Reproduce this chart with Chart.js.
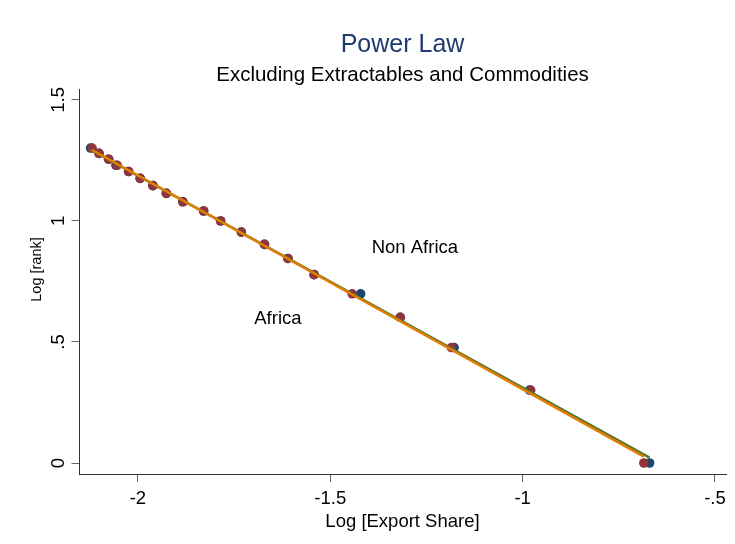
<!DOCTYPE html>
<html>
<head>
<meta charset="utf-8">
<title>Power Law</title>
<script src="https://cdn.jsdelivr.net/npm/chart.js@4.4.1/dist/chart.umd.min.js"></script>
<style>
  html, body { margin: 0; padding: 0; background: #fff; }
  canvas { display: block; }
</style>
</head>
<body>
<canvas id="powerLawChart" width="735" height="544"></canvas>
<script>
// log10 of rank, same for both groups
const logRank = [1.301, 1.279, 1.255, 1.230, 1.204, 1.176, 1.146, 1.114, 1.079, 1.041,
                 1.000, 0.954, 0.903, 0.845, 0.778, 0.699, 0.602, 0.477, 0.301, 0.000];
const nonAfricaShare = [-2.123, -2.101, -2.076, -2.057, -2.024, -1.994, -1.961, -1.926, -1.883, -1.829,
                        -1.785, -1.731, -1.671, -1.610, -1.542, -1.421, -1.318, -1.178, -0.982, -0.670];
const africaShare = [-2.119, -2.101, -2.076, -2.054, -2.024, -1.994, -1.961, -1.926, -1.883, -1.829,
                     -1.785, -1.731, -1.671, -1.610, -1.542, -1.443, -1.318, -1.185, -0.979, -0.685];

const xTicks = [-2, -1.5, -1, -0.5];
const xTickLabels = ['-2', '-1.5', '-1', '-.5'];
const yTicks = [0, 0.5, 1, 1.5];
const yTickLabels = ['0', '.5', '1', '1.5'];

const noteTexts = ['Non Africa', 'Africa'];
const noteX = [-1.28, -1.636];
const noteY = [0.89, 0.594];

const FONT = '"Liberation Sans", Arial, Helvetica, sans-serif';

function linearFit(xs, ys) {
    const n = xs.length;
    const mx = xs.reduce((s, v) => s + v, 0) / n;
    const my = ys.reduce((s, v) => s + v, 0) / n;
    let sxy = 0, sxx = 0;
    for (let i = 0; i < n; i++) {
        sxy += (xs[i] - mx) * (ys[i] - my);
        sxx += (xs[i] - mx) * (xs[i] - mx);
    }
    const b = sxy / sxx;
    const a = my - b * mx;
    const lo = Math.min(...xs);
    const hi = Math.max(...xs);
    return [{ x: lo, y: a + b * lo }, { x: hi, y: a + b * hi }];
}

const toPoints = (xs, ys) => xs.map((x, i) => ({ x: x, y: ys[i] }));

// y tick labels and y title are rotated like Stata draws them, plus the two text notes
const extrasPlugin = {
    id: 'extras',
    afterDraw(chart) {
        const ctx = chart.ctx;
        const xs = chart.scales.x;
        const ys = chart.scales.y;
        ctx.save();
        ctx.fillStyle = '#000';
        ctx.textAlign = 'center';
        ctx.textBaseline = 'middle';
        ctx.font = '18.5px ' + FONT;
        yTicks.forEach((v, i) => {
            ctx.save();
            ctx.translate(ys.right - 20.5, ys.getPixelForValue(v));
            ctx.rotate(-Math.PI / 2);
            ctx.fillText(yTickLabels[i], 0, 0);
            ctx.restore();
        });

        ctx.save();
        ctx.font = '14.5px ' + FONT;
        ctx.translate(37, (ys.top + ys.bottom) / 2 - 12);
        ctx.rotate(-Math.PI / 2);
        ctx.fillText('Log [rank]', 0, 0);
        ctx.restore();

        ctx.font = '18.5px ' + FONT;
        noteTexts.forEach((t, i) => {
            ctx.fillText(t, xs.getPixelForValue(noteX[i]), ys.getPixelForValue(noteY[i]));
        });
        ctx.restore();
    },
};

function PopulatePowerLawChart() {
    const ctx = document.getElementById('powerLawChart').getContext('2d');
    Chart.defaults.font.family = FONT;
    Chart.defaults.color = '#000';

    const data = {
        datasets: [
            {
                label: 'Fit Africa',
                data: linearFit(africaShare, logRank),
                showLine: true,
                borderColor: '#e37e00',
                borderWidth: 2.5,
                pointRadius: 0,
                order: 1,
            },
            {
                label: 'Fit Non Africa',
                data: linearFit(nonAfricaShare, logRank),
                showLine: true,
                borderColor: '#55752f',
                borderWidth: 2.5,
                pointRadius: 0,
                order: 2,
            },
            {
                label: 'Africa',
                data: toPoints(africaShare, logRank),
                backgroundColor: '#90353b',
                borderWidth: 0,
                pointRadius: 4.8,
                order: 3,
            },
            {
                label: 'Non Africa',
                data: toPoints(nonAfricaShare, logRank),
                backgroundColor: '#1a476f',
                borderWidth: 0,
                pointRadius: 4.8,
                order: 4,
            },
        ],
    };

    new Chart(ctx, {
        type: 'scatter',
        data: data,
        plugins: [extrasPlugin],
        options: {
            responsive: false,
            animation: false,
            layout: { padding: { top: 0, right: 9, bottom: 0, left: 0 } },
            plugins: {
                legend: { display: false },
                tooltip: { enabled: false },
                title: {
                    display: true,
                    text: 'Power Law',
                    color: '#1f3a6e',
                    fullSize: false,
                    font: { size: 25, weight: 'normal' },
                    padding: { top: 30, bottom: 0 },
                },
                subtitle: {
                    display: true,
                    text: 'Excluding Extractables and Commodities',
                    color: '#000',
                    fullSize: false,
                    font: { size: 20.5, weight: 'normal' },
                    padding: { top: 2.7, bottom: 1.7 },
                },
            },
            scales: {
                x: {
                    type: 'linear',
                    min: -2.153,
                    max: -0.4714,
                    afterBuildTicks: s => { s.ticks = xTicks.map(v => ({ value: v })); },
                    afterFit: s => { s.height = 70; },
                    ticks: {
                        callback: (v, i) => xTickLabels[i],
                        font: { size: 18.5 },
                        color: '#000',
                        padding: 6,
                        maxRotation: 0,
                        autoSkip: false,
                    },
                    grid: { drawOnChartArea: false, drawTicks: true, tickLength: 8, color: '#666' },
                    border: { color: '#333', width: 1 },
                    title: {
                        display: true,
                        text: 'Log [Export Share]',
                        font: { size: 18.5 },
                        color: '#000',
                        padding: { top: 0, bottom: 10.5 },
                    },
                },
                y: {
                    type: 'linear',
                    min: -0.0454,
                    max: 1.545,
                    afterBuildTicks: s => { s.ticks = yTicks.map(v => ({ value: v })); },
                    afterFit: s => { s.width = 79; },
                    ticks: { display: false },
                    grid: { drawOnChartArea: false, drawTicks: true, tickLength: 7.5, color: '#666' },
                    border: { color: '#333', width: 1 },
                    title: { display: false },
                },
            },
        },
    });
}

PopulatePowerLawChart();
</script>
</body>
</html>
